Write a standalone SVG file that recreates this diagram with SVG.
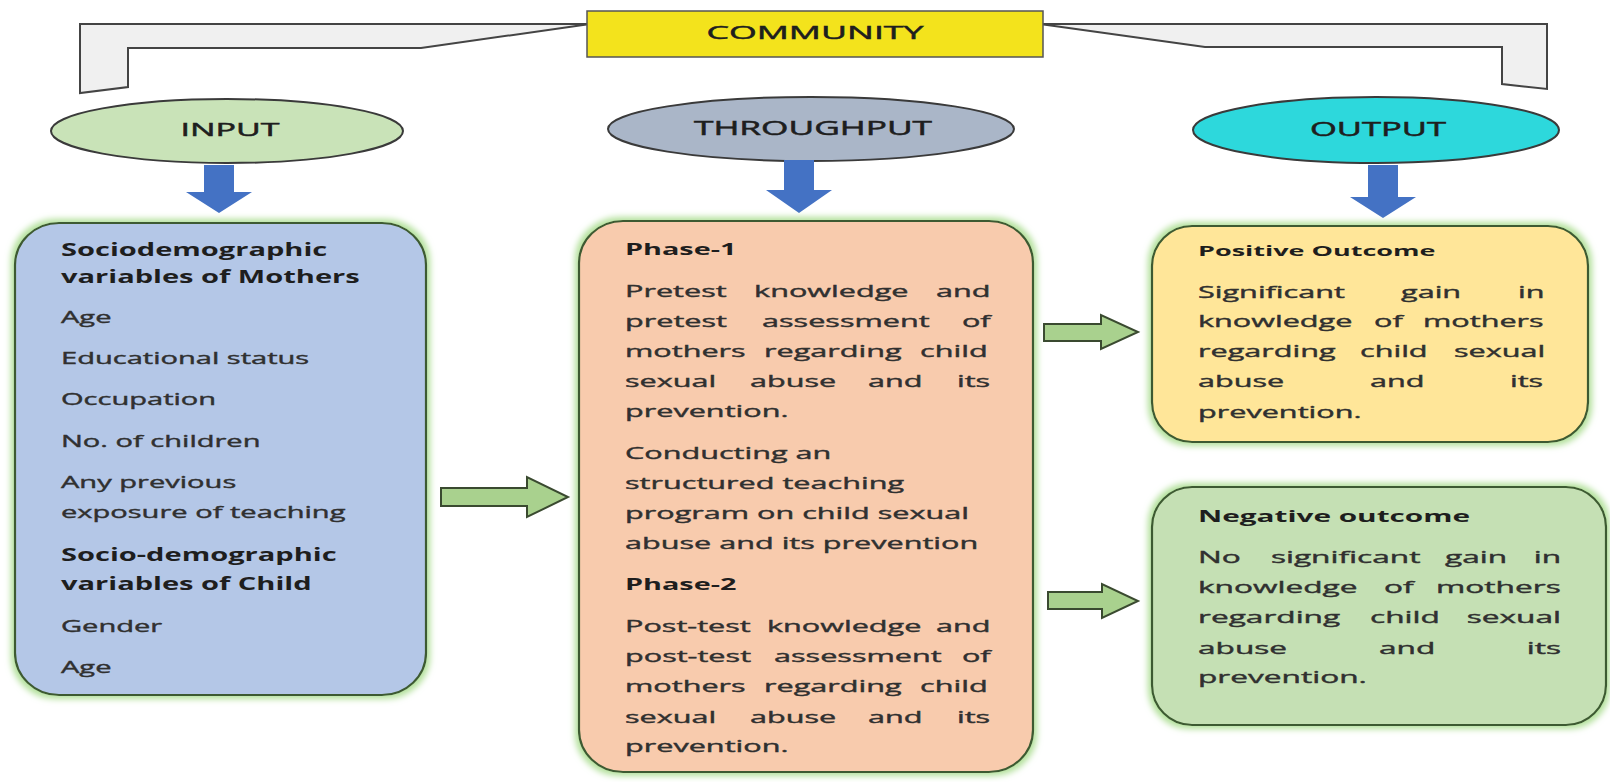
<svg xmlns="http://www.w3.org/2000/svg" width="1610" height="782" viewBox="0 0 1610 782">
  <defs>
    <style>
      .lbl { font-family: "Open Sans", "Liberation Sans", sans-serif; fill: #1e1e1e; stroke: #1e1e1e; stroke-width: 0.5; }
      .body { font-family: "Open Sans", "Liberation Sans", sans-serif; fill: #303030; stroke: #303030; stroke-width: 0.4; font-size: 17px; }
      .head { font-family: "Open Sans", "Liberation Sans", sans-serif; fill: #1e1e1e; font-weight: bold; }
      .bracket { fill: #f0f0f0; stroke: #444; stroke-width: 2; stroke-linejoin: miter; }
      .ell { stroke: #3a3a3a; stroke-width: 2; }
      .box { stroke: #3d5a30; stroke-width: 2.2; filter: url(#glow); }
      .down { fill: #4472c4; }
      .right { fill: #a9d18e; stroke: #3a4a30; stroke-width: 2; stroke-linejoin: miter; }
    </style>
    <filter id="glow" x="-10%" y="-10%" width="120%" height="120%">
      <feMorphology in="SourceAlpha" operator="dilate" radius="3" result="grow"/>
      <feGaussianBlur in="grow" stdDeviation="3" result="soft"/>
      <feFlood flood-color="#b2e09a"/>
      <feComposite in2="soft" operator="in" result="halo"/>
      <feMerge>
        <feMergeNode in="halo"/>
        <feMergeNode in="SourceGraphic"/>
      </feMerge>
    </filter>
  </defs>

  <rect width="1610" height="782" fill="#ffffff"/>

  <!-- community banner with its two side brackets -->
  <g id="community">
    <polygon class="bracket" points="80,93 80,24 590,24 421,48 128,48 128,87"/>
    <polygon class="bracket" points="1040,24 1547,24 1547,89 1502,84 1502,47 1205,47"/>
    <rect x="587" y="11" width="456" height="46" fill="#f3e31c" stroke="#555" stroke-width="1.5"/>
    <text class="lbl" x="815" y="38.500" font-size="19" text-anchor="middle" textLength="217" lengthAdjust="spacingAndGlyphs">COMMUNITY</text>
  </g>

  <!-- stage headers -->
  <g id="input">
    <ellipse class="ell" cx="227" cy="131" rx="176" ry="32" fill="#c9e3b8"/>
    <text class="lbl" x="230" y="136" font-size="19" text-anchor="middle" textLength="99" lengthAdjust="spacingAndGlyphs">INPUT</text>
  </g>
  <g id="throughput">
    <ellipse class="ell" cx="811" cy="129" rx="203" ry="32" fill="#aab6c8"/>
    <text class="lbl" x="813" y="135" font-size="19.500" text-anchor="middle" textLength="238" lengthAdjust="spacingAndGlyphs">THROUGHPUT</text>
  </g>
  <g id="output">
    <ellipse class="ell" cx="1376" cy="130" rx="183" ry="33" fill="#2dd8dc"/>
    <text class="lbl" x="1378" y="136" font-size="19.500" text-anchor="middle" textLength="136" lengthAdjust="spacingAndGlyphs">OUTPUT</text>
  </g>

  <!-- arrows -->
  <g id="connectors">
    <path class="down" d="M204,165 H234 V192 H252 L219,213 L186,192 H204 Z"/>
    <path class="down" d="M784,160 H814 V190 H832 L799,213 L766,190 H784 Z"/>
    <path class="down" d="M1368,165 H1398 V197 H1416 L1383,218 L1350,197 H1368 Z"/>
    <path class="right" d="M441,488 H527 V477 L568,497 L527,517 V506 H441 Z"/>
    <path class="right" d="M1044,324 H1101 V315 L1138,332 L1101,349 V341 H1044 Z"/>
    <path class="right" d="M1048,592 H1102 V584 L1138,601 L1102,618 V609 H1048 Z"/>
  </g>

  <!-- input variables -->
  <g id="variables">
    <rect class="box" x="15" y="223" width="411" height="472" rx="44" ry="42" fill="#b4c7e7"/>
    <g transform="translate(61 0) scale(1.71 1)">
      <text class="head" font-size="17" x="0" y="256">Sociodemographic</text>
      <text class="head" font-size="17" x="0" y="283">variables of Mothers</text>
      <text class="body" font-size="18" x="0" y="323">Age</text>
      <text class="body" font-size="18" x="0" y="364">Educational status</text>
      <text class="body" font-size="18" x="0" y="405">Occupation</text>
      <text class="body" font-size="18" x="0" y="447">No. of children</text>
      <text class="body" font-size="18" x="0" y="488">Any previous</text>
      <text class="body" font-size="18" x="0" y="518">exposure of teaching</text>
      <text class="head" font-size="17" x="0" y="561">Socio-demographic</text>
      <text class="head" font-size="17" x="0" y="590">variables of Child</text>
      <text class="body" font-size="18" x="0" y="632">Gender</text>
      <text class="body" font-size="18" x="0" y="673">Age</text>
    </g>
  </g>

  <!-- teaching programme phases -->
  <g id="phases">
    <rect class="box" x="579" y="221" width="454" height="551" rx="44" ry="42" fill="#f8cbad"/>
    <g transform="translate(625 0) scale(1.8 1)">
      <text class="head" font-size="16" x="0" y="255">Phase-1</text>
      <text class="body" y="297"><tspan x="0">Pretest</tspan><tspan x="71.7">knowledge</tspan><tspan x="172.8">and</tspan></text>
      <text class="body" y="327"><tspan x="0">pretest</tspan><tspan x="76.1">assessment</tspan><tspan x="187.2">of</tspan></text>
      <text class="body" y="357"><tspan x="0">mothers</tspan><tspan x="77.2">regarding</tspan><tspan x="163.9">child</tspan></text>
      <text class="body" y="387"><tspan x="0">sexual</tspan><tspan x="69.4">abuse</tspan><tspan x="135">and</tspan><tspan x="184.4">its</tspan></text>
      <text class="body" x="0" y="417">prevention.</text>
      <text class="body" x="0" y="459">Conducting an</text>
      <text class="body" x="0" y="489">structured teaching</text>
      <text class="body" x="0" y="519">program on child sexual</text>
      <text class="body" x="0" y="549">abuse and its prevention</text>
      <text class="head" font-size="16" x="0" y="590">Phase-2</text>
      <text class="body" y="632"><tspan x="0">Post-test</tspan><tspan x="78.9">knowledge</tspan><tspan x="172.8">and</tspan></text>
      <text class="body" y="662"><tspan x="0">post-test</tspan><tspan x="82.8">assessment</tspan><tspan x="187.2">of</tspan></text>
      <text class="body" y="692"><tspan x="0">mothers</tspan><tspan x="77.2">regarding</tspan><tspan x="163.9">child</tspan></text>
      <text class="body" y="723"><tspan x="0">sexual</tspan><tspan x="69.4">abuse</tspan><tspan x="135">and</tspan><tspan x="184.4">its</tspan></text>
      <text class="body" x="0" y="752">prevention.</text>
    </g>
  </g>

  <!-- outcome: gain -->
  <g id="positive">
    <rect class="box" x="1152" y="226" width="436" height="216" rx="40" ry="40" fill="#ffe699"/>
    <g transform="translate(1198 0) scale(1.8 1)">
      <text class="head" font-size="15" x="0" y="256">Positive Outcome</text>
      <text class="body" y="298"><tspan x="0">Significant</tspan><tspan x="112.8">gain</tspan><tspan x="177.8">in</tspan></text>
      <text class="body" y="327"><tspan x="0">knowledge</tspan><tspan x="97.8">of</tspan><tspan x="125">mothers</tspan></text>
      <text class="body" y="357"><tspan x="0">regarding</tspan><tspan x="90">child</tspan><tspan x="142.2">sexual</tspan></text>
      <text class="body" y="387"><tspan x="0">abuse</tspan><tspan x="95.6">and</tspan><tspan x="173.3">its</tspan></text>
      <text class="body" x="0" y="418">prevention.</text>
    </g>
  </g>

  <!-- outcome: no gain -->
  <g id="negative">
    <rect class="box" x="1152" y="487" width="454" height="238" rx="40" ry="40" fill="#c5e0b4"/>
    <g transform="translate(1198 0) scale(1.86 1)">
      <text class="head" font-size="16" x="0" y="522">Negative outcome</text>
      <text class="body" y="563"><tspan x="0">No</tspan><tspan x="39.2">significant</tspan><tspan x="132.8">gain</tspan><tspan x="180.5">in</tspan></text>
      <text class="body" y="593"><tspan x="0">knowledge</tspan><tspan x="100">of</tspan><tspan x="128">mothers</tspan></text>
      <text class="body" y="623"><tspan x="0">regarding</tspan><tspan x="92.5">child</tspan><tspan x="144.5">sexual</tspan></text>
      <text class="body" y="654"><tspan x="0">abuse</tspan><tspan x="97.3">and</tspan><tspan x="176.8">its</tspan></text>
      <text class="body" x="0" y="683">prevention.</text>
    </g>
  </g>
</svg>
